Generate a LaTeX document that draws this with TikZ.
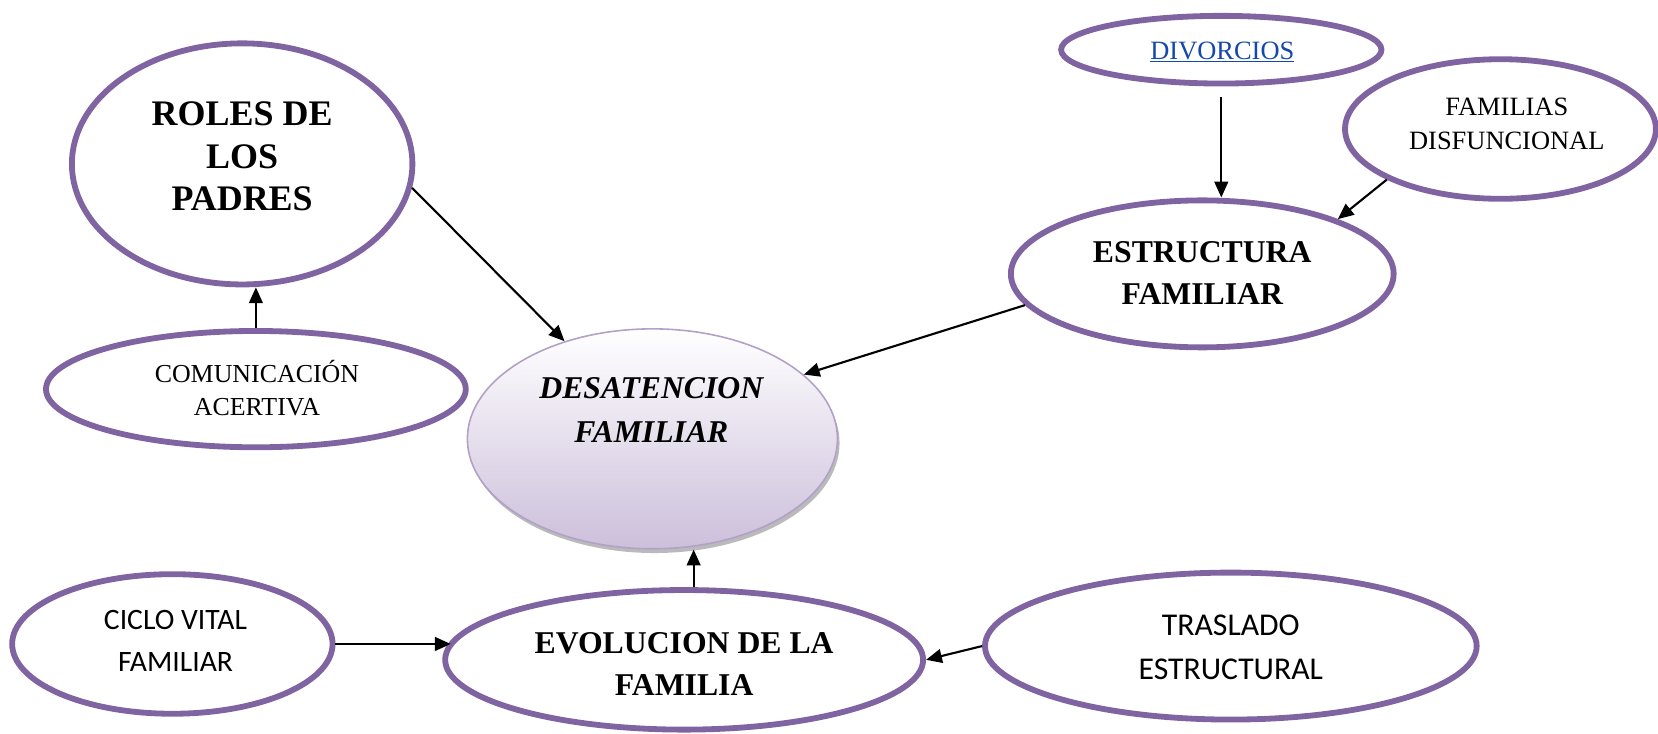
\documentclass[tikz,border=0pt]{standalone}
\usepackage{fontspec}
\setmainfont{Liberation Serif}
\newfontfamily\calibri{Carlito}
\usetikzlibrary{shapes.geometric,arrows.meta,shadows}
\definecolor{pur}{RGB}{128,100,162}
\definecolor{desborder}{RGB}{178,161,199}
\definecolor{desbottom}{RGB}{204,191,219}
\definecolor{lnk}{RGB}{20,72,170}
\begin{document}
\begin{tikzpicture}[x=1pt,y=-1pt,
  oval/.style={ellipse,draw=pur,line width=5.5pt,fill=white,inner sep=0pt},
  conn/.style={line width=2pt,-{Triangle[length=15pt,width=13pt]}},
  lbl/.style={align=center,inner sep=0pt}]
\useasboundingbox (0,0) rectangle (1568,694);

% ellipses
\node[oval,minimum width=322pt,minimum height=228pt] (roles) at (229,155) {};
\node[oval,minimum width=397pt,minimum height=110pt] (com) at (242,368) {};
\node[ellipse,inner sep=0pt,draw=desborder,line width=1.5pt,
      top color=white,bottom color=desbottom,
      drop shadow={shadow xshift=2pt,shadow yshift=-4pt,fill=black!45,opacity=0.6},
      minimum width=350pt,minimum height=208pt] (des) at (617,415) {};
\node[oval,minimum width=303pt,minimum height=64pt] (div) at (1155,47) {};
\node[oval,minimum width=294pt,minimum height=132pt] (fam) at (1419,122) {};
\node[oval,minimum width=362pt,minimum height=139pt] (est) at (1137,259) {};
\node[oval,minimum width=303pt,minimum height=132pt] (ciclo) at (163,609) {};
\node[oval,minimum width=452pt,minimum height=132pt] (evo) at (647,624) {};
\node[oval,minimum width=465pt,minimum height=139pt] (tras) at (1164,611) {};

% texts
\node[lbl,font=\bfseries\fontsize{34}{40}\selectfont] (troles) at (229,148) {ROLES DE\\LOS\\PADRES};
\node[lbl,font=\fontsize{24.5}{32}\selectfont] (tcom) at (243,367) {COMUNICACIÓN\\ACERTIVA};
\node[lbl,font=\bfseries\itshape\fontsize{30}{42}\selectfont] (tdes) at (616,388) {DESATENCION\\FAMILIAR};
\node[lbl,font=\fontsize{25}{30}\selectfont,text=lnk] (tdiv) at (1156,49) {\underline{DIVORCIOS}};
\node[lbl,font=\fontsize{25}{32}\selectfont] (tfam) at (1425,117) {FAMILIAS\\DISFUNCIONAL};
\node[lbl,font=\bfseries\fontsize{30}{40}\selectfont] (test) at (1137,258) {ESTRUCTURA\\FAMILIAR};
\node[lbl,font=\calibri\fontsize{28}{39}\selectfont] (tciclo) at (166,606) {CICLO VITAL\\FAMILIAR};
\node[lbl,font=\bfseries\fontsize{30}{39}\selectfont] (tevo) at (647,628) {EVOLUCION DE LA\\FAMILIA};
\node[lbl,font=\calibri\fontsize{30}{42}\selectfont] (ttras) at (1164,612) {TRASLADO\\ESTRUCTURAL};

% connectors
\draw[conn] (roles.-8) -- (des.132);
\draw[conn] (com.north) -- (com.north |- roles.south);
\draw[conn] (est.190) -- (des.23);
\draw[conn,shorten <=10pt] (div.south) -- (div.south |- est.north);
\draw[conn] (fam.204) -- (est.22);
\draw[conn] ([xshift=9pt]evo.north) -- ([xshift=9pt]evo.north |- des.south);
\draw[conn] (ciclo.east) -- ([xshift=8pt]ciclo.east -| evo.west);
\draw[conn] (tras.west) -- (evo.east);
\end{tikzpicture}
\end{document}
